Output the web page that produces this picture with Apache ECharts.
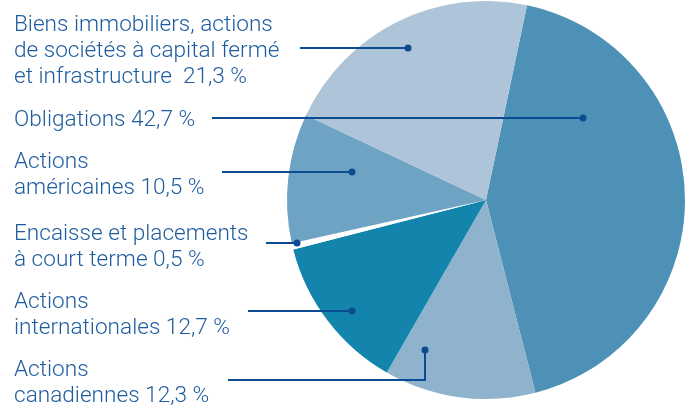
<!DOCTYPE html>
<html>
<head>
<meta charset="utf-8">
<script src="https://cdn.jsdelivr.net/npm/echarts@6/dist/echarts.min.js"></script>
<style>
  html, body { margin: 0; padding: 0; background: #fff; }
  #main { width: 689px; height: 405px; }
</style>
</head>
<body>
<div id="main"></div>
<script>
// slices, clockwise from the top
const names = [
    'Obligations',
    'Actions\ncanadiennes',
    'Actions\ninternationales',
    'Encaisse et placements\nà court terme',
    'Actions\naméricaines',
    'Biens immobiliers, actions\nde sociétés à capital fermé\net infrastructure '
];
const values = [42.7, 12.3, 12.7, 0.5, 10.5, 21.3];
const colors = ['#4d91b7', '#8fb2cd', '#1384ac', '#ffffff', '#6fa3c4', '#aec5d9'];

// label top y for each slice (layout only)
const labelTop = [107, 357, 289, 221, 149, 12];
// leader lines: [x,y] points ending at the dot
const leaders = [
    [[212, 118], [583, 118]],
    [[228, 380], [425, 380], [425, 350]],
    [[248, 311], [352, 311]],
    [[266, 243], [297, 243]],
    [[222, 172], [352, 172]],
    [[300, 48], [408, 48]]
];
const lineColor = '#0b4b92';

let myChart = echarts.init(document.getElementById('main'));

let graphics = [];
leaders.forEach((pts) => {
    graphics.push({
        type: 'polyline',
        shape: {points: pts},
        style: {stroke: lineColor, lineWidth: 2, fill: null},
        z: 10
    });
    let end = pts[pts.length - 1];
    graphics.push({
        type: 'circle',
        shape: {cx: end[0], cy: end[1], r: 3.5},
        style: {fill: lineColor},
        z: 11
    });
});

myChart.setOption({
    animation: false,
    graphic: graphics,
    series: [{
        type: 'pie',
        center: [486, 200],
        radius: [0, 199],
        startAngle: 78.1,
        clockwise: true,
        avoidLabelOverlap: false,
        emphasis: {disabled: true},
        itemStyle: {borderWidth: 0},
        label: {
            show: true,
            position: 'outside',
            color: '#1d5c9e',
            fontFamily: 'Roboto',
            fontWeight: 300,
            fontSize: 22.6,
            lineHeight: 26,
            formatter: (p) => p.name + ' ' + values[p.dataIndex].toFixed(1).replace('.', ',') + ' %'
        },
        labelLine: {show: false},
        labelLayout: (p) => ({
            x: 14,
            y: labelTop[p.dataIndex],
            align: 'left',
            verticalAlign: 'top'
        }),
        data: values.map((v, i) => ({
            name: names[i],
            value: v,
            itemStyle: {color: colors[i]}
        }))
    }]
});
window.addEventListener('resize', () => myChart.resize());
</script>
</body>
</html>
